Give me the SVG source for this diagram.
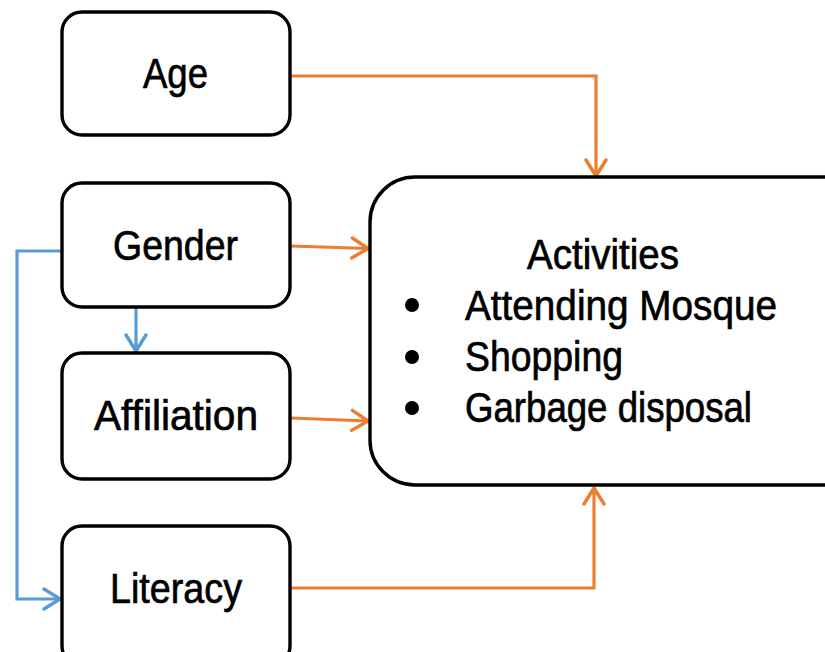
<svg xmlns="http://www.w3.org/2000/svg" width="825" height="652" viewBox="0 0 825 652">
<defs>
<style>
.box{fill:#fff;stroke:#000;stroke-width:3.4}
.t{font-family:"Liberation Sans Narrow","Liberation Sans","DejaVu Sans Condensed",sans-serif;font-size:43px;fill:#000;stroke:#000;stroke-width:0.7}
.or{fill:none;stroke:#ED7D31;stroke-width:3.2}
.bl{fill:none;stroke:#5B9BD5;stroke-width:3.2}
</style>
<marker id="ao" viewBox="-20 -12 22 24" markerWidth="22" markerHeight="24" refX="0" refY="0" orient="auto" markerUnits="userSpaceOnUse">
<path d="M-16,-10 L0,0 L-16,10" fill="none" stroke="#ED7D31" stroke-width="3.4" stroke-linecap="round" stroke-linejoin="round"/>
</marker>
<marker id="ab" viewBox="-20 -12 22 24" markerWidth="22" markerHeight="24" refX="0" refY="0" orient="auto" markerUnits="userSpaceOnUse">
<path d="M-16,-10 L0,0 L-16,10" fill="none" stroke="#5B9BD5" stroke-width="3.4" stroke-linecap="round" stroke-linejoin="round"/>
</marker>
</defs>
<rect width="825" height="652" fill="#fff"/>
<g id="connectors">
<path class="or" d="M290,76 H596 V176" marker-end="url(#ao)"/>
<path class="or" d="M291,246 L368,248.5" marker-end="url(#ao)"/>
<path class="or" d="M291,418 L368,421" marker-end="url(#ao)"/>
<path class="or" d="M290,588 H594 V488" marker-end="url(#ao)"/>
<path class="bl" d="M62,251 H17 V599 H60" marker-end="url(#ab)"/>
<path class="bl" d="M136,308 V351" marker-end="url(#ab)"/>
</g>
<g id="age">
<rect class="box" x="62" y="12" width="228" height="123" rx="20"/>
<text class="t" x="143" y="88" textLength="65" lengthAdjust="spacingAndGlyphs">Age</text>
</g>
<g id="gender">
<rect class="box" x="62" y="183" width="228" height="124" rx="20"/>
<text class="t" x="113" y="260" textLength="125" lengthAdjust="spacingAndGlyphs">Gender</text>
</g>
<g id="affiliation">
<rect class="box" x="62" y="353" width="228" height="126" rx="20"/>
<text class="t" x="94" y="430" textLength="164" lengthAdjust="spacingAndGlyphs">Affiliation</text>
</g>
<g id="literacy">
<rect class="box" x="62" y="526" width="228" height="140" rx="20"/>
<text class="t" x="110" y="603" textLength="132" lengthAdjust="spacingAndGlyphs">Literacy</text>
</g>
<g id="activities">
<rect class="box" x="370" y="177" width="500" height="308" rx="45"/>
<text class="t" x="527" y="269" textLength="152" lengthAdjust="spacingAndGlyphs">Activities</text>
<circle cx="412" cy="305" r="7"/>
<circle cx="412" cy="357" r="7"/>
<circle cx="412" cy="408" r="7"/>
<text class="t" x="465" y="320" textLength="312" lengthAdjust="spacingAndGlyphs">Attending Mosque</text>
<text class="t" x="465" y="371" textLength="158" lengthAdjust="spacingAndGlyphs">Shopping</text>
<text class="t" x="465" y="422" textLength="287" lengthAdjust="spacingAndGlyphs">Garbage disposal</text>
</g>
</svg>
